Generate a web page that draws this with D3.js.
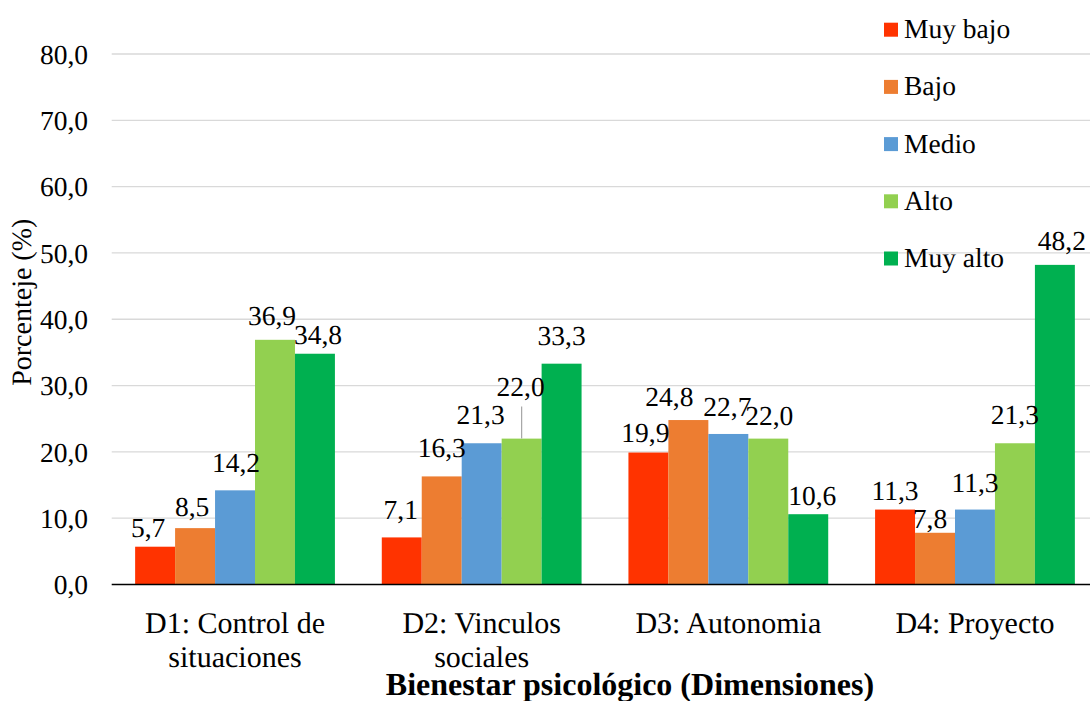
<!DOCTYPE html>
<html>
<head>
<meta charset="utf-8">
<script src="https://cdn.jsdelivr.net/npm/d3@7"></script>
<style>
  body { margin: 0; background: #fff; }
  svg text { text-rendering: geometricPrecision; fill: #000; }
</style>
</head>
<body>
<div id="chart"></div>
<script>
// Chart data
var categories = ["D1: Control de situaciones", "D2: Vinculos sociales", "D3: Autonomia", "D4: Proyecto"];
var series = ["Muy bajo", "Bajo", "Medio", "Alto", "Muy alto"];
var muyBajo = [5.7, 7.1, 19.9, 11.3];
var bajo    = [8.5, 16.3, 24.8, 7.8];
var medio   = [14.2, 21.3, 22.7, 11.3];
var alto    = [36.9, 22.0, 22.0, 21.3];
var muyAlto = [34.8, 33.3, 10.6, 48.2];
var yTicks  = [0, 10, 20, 30, 40, 50, 60, 70, 80];

var colors = ["#ff3300", "#ed7d31", "#5b9bd5", "#92d050", "#00b050"];
var values = [muyBajo, bajo, medio, alto, muyAlto];
var serif = "Liberation Serif";

// label nudges (dx, gap above bar) per category / series, as placed in the original
var labelOffsets = [
  [[-7, 10], [-3, 12], [1, 18], [-3, 15], [3, 10]],
  [[-1, 18], [0, 19], [-1, 19], [-1, 43], [0, 19]],
  [[-3, 11], [-19, 14], [-1, 18], [1, 14], [4, 9]],
  [[0, 10], [-5, 5], [0, 18], [0, 19], [7, 15]]
];

var width = 1090, height = 701;
var plot = {left: 111.7, right: 1098.3, top: 54, bottom: 584.5};

var svg = d3.select("#chart").append("svg")
    .attr("width", width)
    .attr("height", height)
    .attr("font-family", serif);

var x0 = d3.scaleBand().domain(categories)
    .range([plot.left, plot.right])
    .paddingInner(0.19).paddingOuter(0.095);
var x1 = d3.scaleBand().domain(series).range([0, x0.bandwidth()]);
var y = d3.scaleLinear().domain([0, 80]).range([plot.bottom, plot.top]);

var fmt = function(v) { return d3.format(".1f")(v).replace(".", ","); };

// gridlines
svg.append("g")
  .selectAll("line")
  .data(yTicks.filter(function(t) { return t > 0; }))
  .enter().append("line")
    .attr("x1", plot.left).attr("x2", width)
    .attr("y1", function(d) { return y(d); })
    .attr("y2", function(d) { return y(d); })
    .attr("stroke", "#d9d9d9")
    .attr("stroke-width", 1.3);

// y tick labels
svg.append("g")
  .selectAll("text")
  .data(yTicks)
  .enter().append("text")
    .attr("x", 88)
    .attr("y", function(d) { return y(d); })
    .attr("dy", "0.35em")
    .attr("text-anchor", "end")
    .attr("font-size", 27.5)
    .text(fmt);

// bars
var rows = [];
categories.forEach(function(c, i) {
  series.forEach(function(s, j) {
    rows.push({cat: c, ci: i, ser: s, si: j, value: values[j][i]});
  });
});

svg.append("g")
  .selectAll("rect")
  .data(rows)
  .enter().append("rect")
    .attr("x", function(d) { return x0(d.cat) + x1(d.ser); })
    .attr("y", function(d) { return y(d.value); })
    .attr("width", x1.bandwidth())
    .attr("height", function(d) { return y(0) - y(d.value); })
    .attr("fill", function(d) { return colors[d.si]; });

// x axis line
svg.append("line")
  .attr("x1", plot.left).attr("x2", width)
  .attr("y1", y(0)).attr("y2", y(0))
  .attr("stroke", "#000")
  .attr("stroke-width", 1.5);

// leader lines for labels pulled away from their bar
svg.append("g")
  .selectAll("line")
  .data(rows.filter(function(d) { return labelOffsets[d.ci][d.si][1] > 30; }))
  .enter().append("line")
    .attr("x1", function(d) { return x0(d.cat) + x1(d.ser) + x1.bandwidth() / 2; })
    .attr("x2", function(d) { return x0(d.cat) + x1(d.ser) + x1.bandwidth() / 2; })
    .attr("y1", function(d) { return y(d.value); })
    .attr("y2", function(d) { return y(d.value) - labelOffsets[d.ci][d.si][1] + 11; })
    .attr("stroke", "#a6a6a6")
    .attr("stroke-width", 1.2);

// data labels
svg.append("g")
  .selectAll("text")
  .data(rows)
  .enter().append("text")
    .attr("x", function(d) { return x0(d.cat) + x1(d.ser) + x1.bandwidth() / 2 + labelOffsets[d.ci][d.si][0]; })
    .attr("y", function(d) { return y(d.value) - labelOffsets[d.ci][d.si][1]; })
    .attr("text-anchor", "middle")
    .attr("font-size", 27.5)
    .text(function(d) { return fmt(d.value); });

// category labels, wrapped
svg.append("g")
  .selectAll("text")
  .data(categories)
  .enter().append("text")
    .attr("text-anchor", "middle")
    .attr("y", 633)
    .attr("font-size", 30)
    .each(function(d) {
      var el = d3.select(this);
      var cx = x0(d) + x0.bandwidth() / 2;
      var words = d.split(" "), line = [], lineNo = 0;
      var tspan = el.append("tspan").attr("x", cx).attr("y", 633);
      words.forEach(function(w) {
        line.push(w);
        tspan.text(line.join(" "));
        if (tspan.node().getComputedTextLength() > x0.step() * 0.88 && line.length > 1) {
          line.pop();
          tspan.text(line.join(" "));
          line = [w];
          lineNo++;
          tspan = el.append("tspan").attr("x", cx).attr("y", 633 + lineNo * 34).text(w);
        }
      });
    });

// axis titles
svg.append("text")
  .attr("transform", "translate(31," + ((plot.top + plot.bottom) / 2 - 17) + ") rotate(-90)")
  .attr("text-anchor", "middle")
  .attr("font-size", 28)
  .text("Porcenteje (%)");

svg.append("text")
  .attr("x", 630)
  .attr("y", 695)
  .attr("text-anchor", "middle")
  .attr("font-size", 32)
  .attr("font-weight", "bold")
  .text("Bienestar psicológico (Dimensiones)");

// legend
var legend = svg.append("g")
  .selectAll("g")
  .data(series)
  .enter().append("g")
    .attr("transform", function(d, i) { return "translate(884," + (22.7 + i * 57.2) + ")"; });

legend.append("rect")
  .attr("width", 14).attr("height", 14)
  .attr("fill", function(d, i) { return colors[i]; });

legend.append("text")
  .attr("x", 20)
  .attr("y", 15.5)
  .attr("font-size", 27.5)
  .text(function(d) { return d; });
</script>
</body>
</html>
